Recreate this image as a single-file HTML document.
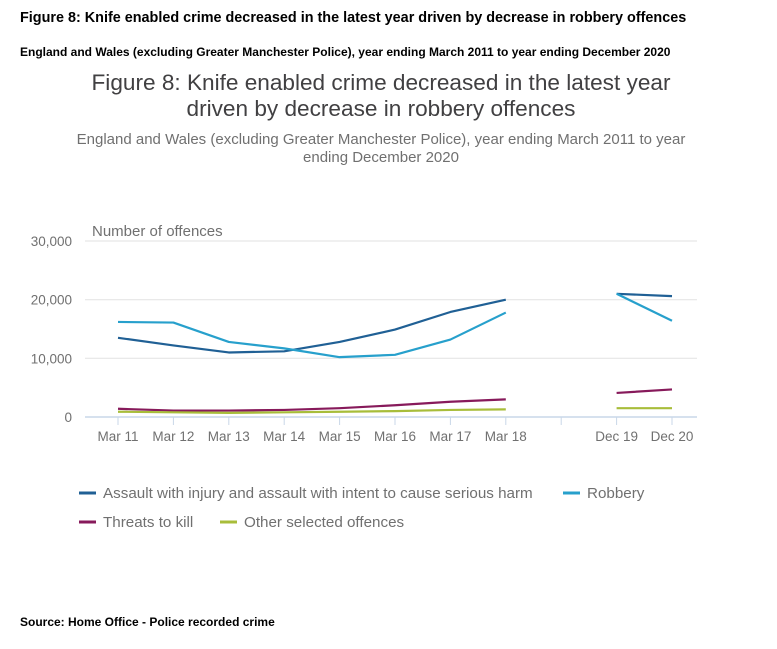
<!DOCTYPE html>
<html><head><meta charset="utf-8"><style>
body{margin:0;background:#fff;width:777px;height:649px;overflow:hidden;font-family:"Liberation Sans",sans-serif;}
.h{position:absolute;left:20px;font-weight:bold;color:#000;white-space:nowrap}
svg{position:absolute;left:0;top:0}
</style></head><body>
<div class="h" style="top:10px;font-size:14.4px;">Figure 8: Knife enabled crime decreased in the latest year driven by decrease in robbery offences</div>
<div class="h" style="top:45px;font-size:12px;">England and Wales (excluding Greater Manchester Police), year ending March 2011 to year ending December 2020</div>
<div class="h" style="top:615px;font-size:12px;">Source: Home Office - Police recorded crime</div>
<svg width="777" height="649" id="chart">
<text x="381" y="90" text-anchor="middle" font-size="22.6" fill="#414042">Figure 8: Knife enabled crime decreased in the latest year</text>
<text x="381" y="116" text-anchor="middle" font-size="22.6" fill="#414042">driven by decrease in robbery offences</text>
<text x="381" y="144" text-anchor="middle" font-size="15" fill="#707070">England and Wales (excluding Greater Manchester Police), year ending March 2011 to year</text>
<text x="381" y="162" text-anchor="middle" font-size="15" fill="#707070">ending December 2020</text>
<text x="92" y="236" font-size="15" fill="#707070">Number of offences</text>
<g id="grid"></g><g id="series"></g><g id="legend"></g>
</svg>
<script>
const categories=["Mar 11","Mar 12","Mar 13","Mar 14","Mar 15","Mar 16","Mar 17","Mar 18","","Dec 19","Dec 20"];
const yTicks=[0,10000,20000,30000];
const yTickLabels=["0","10,000","20,000","30,000"];
const assault=[13500,12200,11000,11200,12800,14900,17900,20000,null,21000,20600];
const robbery=[16200,16100,12800,11700,10200,10600,13200,17800,null,21000,16400];
const threats=[1400,1100,1100,1200,1500,2000,2600,3000,null,4100,4700];
const other=[900,800,700,800,900,1000,1200,1300,null,1500,1500];
const NS="http://www.w3.org/2000/svg";
const x=i=>118+i*55.4;
const y=v=>417-v*(176/30000);
function mk(t,a,p){const e=document.createElementNS(NS,t);for(const k in a)e.setAttribute(k,a[k]);p.appendChild(e);return e;}
const grid=document.getElementById('grid');
yTicks.forEach((v,i)=>{
 const l=mk('line',{x1:85,x2:697,y1:y(v),y2:y(v),stroke:v===0?'#c9d7e8':'#e6e6e6','stroke-width':v===0?1.5:1.2},grid);
 
 
 const t=mk('text',{x:72,y:y(v)+5,'text-anchor':'end','font-size':13.5,fill:'#707070'},grid);
 t.textContent=yTickLabels[i];
 
 
});
categories.forEach((c,i)=>{
 const l=mk('line',{x1:x(i),x2:x(i),y1:y(0),y2:y(0)+8,stroke:'#c9d7e8','stroke-width':1},grid);
 
 
 const t=mk('text',{x:x(i),y:441,'text-anchor':'middle','font-size':13.5,fill:'#707070'},grid);
 t.textContent=c;
 
 
});
const ser=[[assault,'#206095','assault'],[robbery,'#27a0cc','robbery'],[threats,'#871a5b','threats-to-kill'],[other,'#a8bd3a','other-offences']];
const sg=document.getElementById('series');
ser.forEach(([d,col,n])=>{
 let path='',pen=false;
 d.forEach((v,i)=>{if(v==null){pen=false;return;}path+=(pen?'L':'M')+x(i)+','+y(v);pen=true;});
 const p=mk('path',{d:path,fill:'none',stroke:col,'stroke-width':2.2,'stroke-linejoin':'round'},sg);
 
 
});
const legend=[['Assault with injury and assault with intent to cause serious harm','#206095',79,493],['Robbery','#27a0cc',563,493],['Threats to kill','#871a5b',79,522],['Other selected offences','#a8bd3a',220,522]];
const lg=document.getElementById('legend');
legend.forEach(([t,c,lx,ly])=>{
 const l=mk('line',{x1:lx,x2:lx+17,y1:ly,y2:ly,stroke:c,'stroke-width':3},lg);
 
 
 const tx=mk('text',{x:lx+24,y:ly+5,'font-size':15.2,fill:'#707070'},lg);
 tx.textContent=t;
 
 
});
</script>
</body></html>
